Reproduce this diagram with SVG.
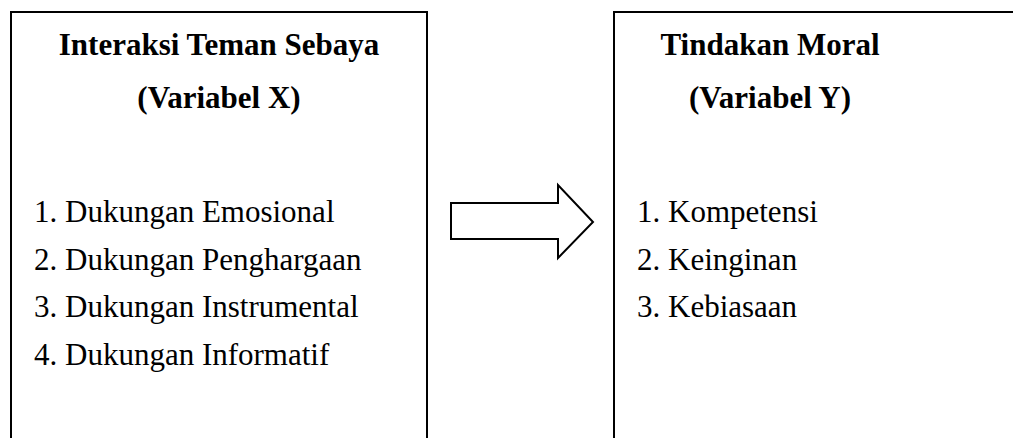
<svg xmlns="http://www.w3.org/2000/svg" width="1013" height="438" viewBox="0 0 1013 438">
<style>
.box{fill:#fff;stroke:#000;stroke-width:2}
.t{font-family:"Liberation Serif","Times New Roman",serif;font-size:31px;fill:#000}
.b{font-weight:bold;text-anchor:middle}
</style>
<rect width="1013" height="438" fill="#fff"/>
<g id="node-x">
<rect class="box" x="11" y="12" width="416" height="440"/>
<text class="t b" x="219" y="55">Interaksi Teman Sebaya</text>
<text class="t b" x="219" y="108">(Variabel X)</text>
<text class="t" x="34" y="222">1. Dukungan Emosional</text>
<text class="t" x="34" y="269.5">2. Dukungan Penghargaan</text>
<text class="t" x="34" y="317">3. Dukungan Instrumental</text>
<text class="t" x="34" y="364.5">4. Dukungan Informatif</text>
</g>
<g id="connectors">
<path d="M451 203 H558 V185 L593 222 L558 258 V239 H451 Z" fill="#fff" stroke="#000" stroke-width="2" stroke-linejoin="miter"/>
</g>
<g id="node-y">
<rect class="box" x="614" y="12" width="420" height="440"/>
<text class="t b" x="770" y="55">Tindakan Moral</text>
<text class="t b" x="770" y="108">(Variabel Y)</text>
<text class="t" x="637" y="222">1. Kompetensi</text>
<text class="t" x="637" y="269.5">2. Keinginan</text>
<text class="t" x="637" y="317">3. Kebiasaan</text>
</g>
</svg>
